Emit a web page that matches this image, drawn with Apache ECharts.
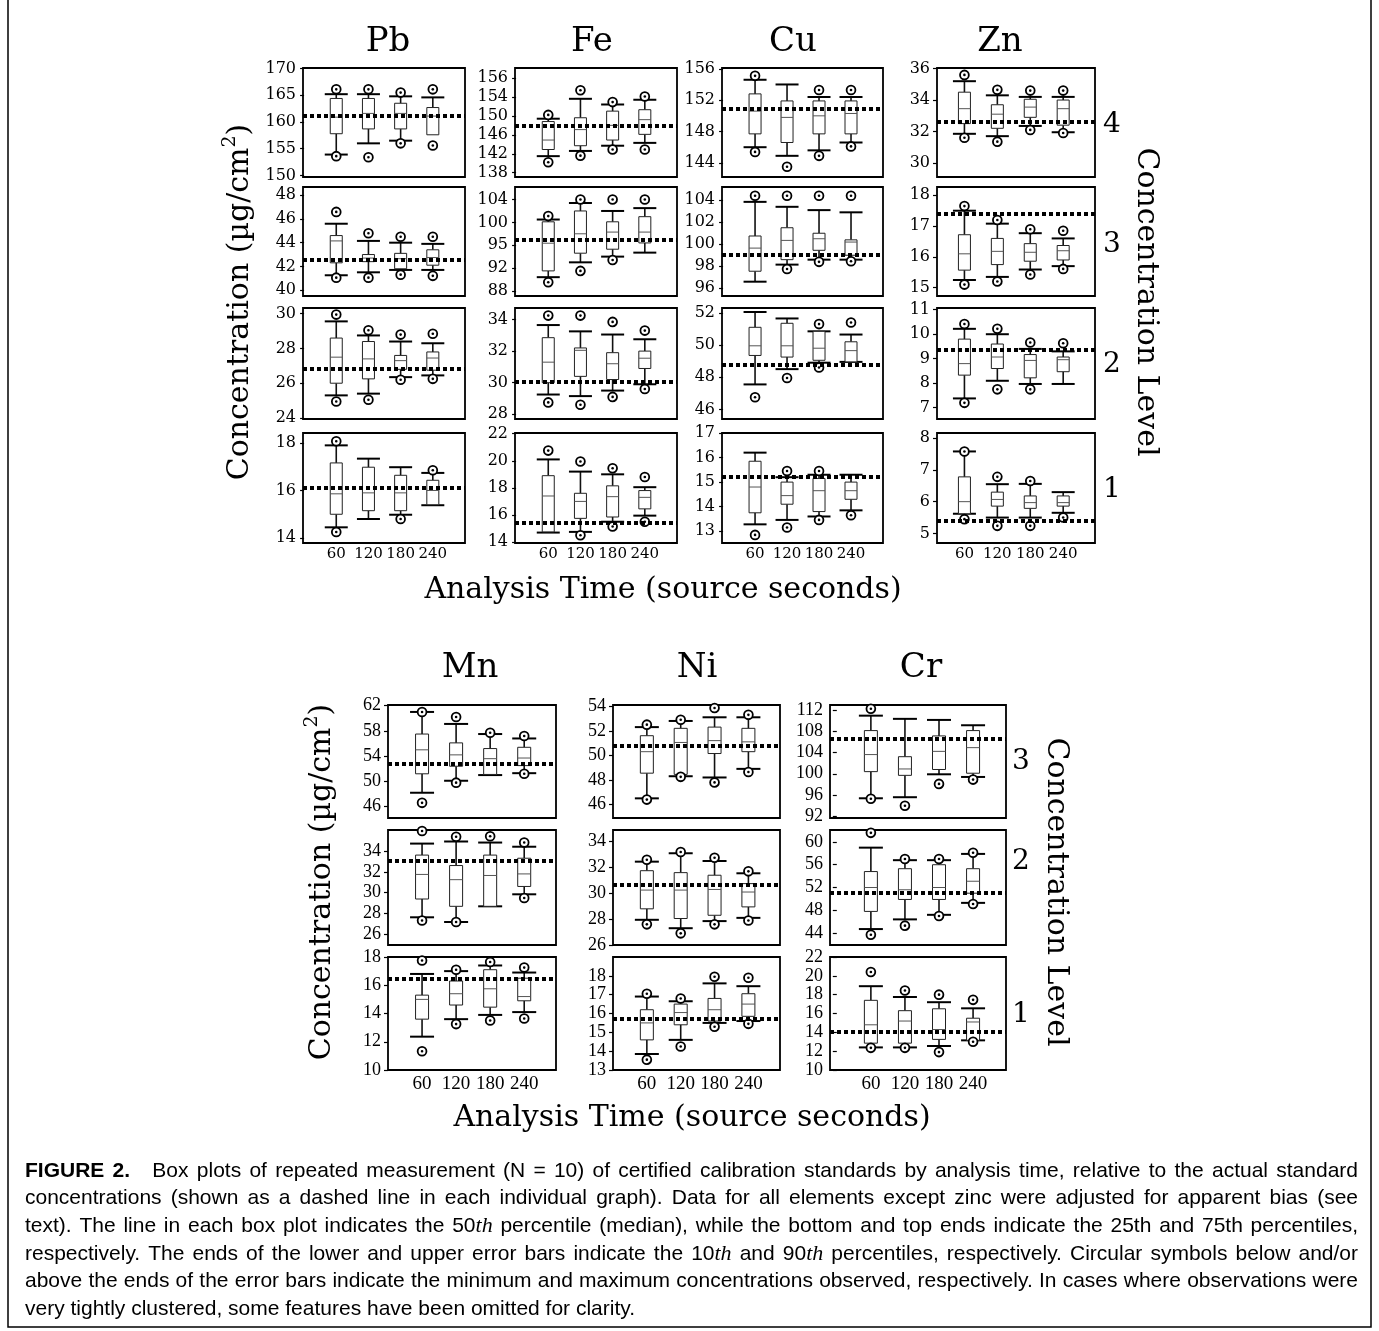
<!DOCTYPE html>
<html>
<head>
<meta charset="utf-8">
<script src="https://cdn.jsdelivr.net/npm/echarts@6/dist/echarts.min.js"></script>
<style>
  html, body { margin: 0; padding: 0; background: #fff; }
  #chart { width: 1379px; height: 1331px; }
</style>
</head>
<body>
<div id="chart"></div>
<script>
// Analysis times (source seconds)
const times = [60, 120, 180, 240];

// Each row: [min, p10, p25, median, p75, p90, max] for one analysis time; null = not shown
const pb4 = [[153.6, 153.9, 157.8, 160.9, 164.4, 165.2, 166.1], [153.4, 156.0, 158.7, 161.6, 164.4, 165.2, 166.1], [156.0, 156.5, 158.7, 161.6, 163.5, 164.8, 165.5], [155.6, null, 157.6, 161.1, 162.7, 164.6, 166.1]];
const pb3 = [[41.05, 41.25, 42.3, 44.15, 44.6, 45.6, 46.6], [41.05, 41.5, 42.4, 42.7, 43.0, 44.15, 44.8], [41.3, 41.7, 41.8, 42.65, 43.1, 44.0, 44.5], [41.2, 41.7, 42.1, 42.75, 43.4, 43.9, 44.5]];
const pb2 = [[24.95, 25.3, 26.0, 27.5, 28.6, 29.56, 29.95], [25.05, 25.4, 26.25, 27.4, 28.4, 28.75, 29.05], [26.2, 26.35, 26.8, 27.3, 27.6, 28.4, 28.8], [26.25, 26.45, 26.75, 27.45, 27.8, 28.3, 28.85]];
const pb1 = [[14.25, 14.45, 15.0, 15.86, 17.16, 17.9, 18.07], [null, 14.8, 15.15, 15.9, 16.98, 17.34, null], [14.8, 14.98, 15.15, 15.9, 16.64, 16.98, null], [null, 15.38, 15.4, 16.0, 16.43, 16.74, 16.85]];

const fe4 = [[140.2, 141.5, 142.9, 144.9, 148.8, 149.4, 150.2], [141.6, 142.6, 143.7, 147.1, 149.6, 153.6, 155.4], [142.9, 143.7, 144.9, 148.0, 151.0, 152.4, 152.9], [142.9, 144.3, 146.1, 149.2, 151.3, 153.4, 154.1]];
const fe3 = [[89.5, 90.4, 91.5, 96.35, 100.1, 100.5, 101.1], [91.5, 93.0, 94.6, 98.0, 102.0, 103.4, 104.0], [93.4, 94.0, 95.3, 98.3, 100.1, 102.0, 104.0], [null, 94.7, 96.4, 98.3, 101.0, 102.5, 104.0]];
const fe2 = [[28.75, 29.25, 30.0, 31.3, 32.85, 33.65, 34.25], [28.6, 29.15, 30.4, 32.05, 32.2, 33.25, 34.25], [29.1, 29.5, 30.2, 31.2, 31.9, 33.05, 33.85], [29.6, 29.9, 30.9, 31.55, 32.0, 32.75, 33.3]];
const fe1 = [[null, 14.7, 14.75, 17.4, 18.9, 20.1, 20.75], [14.5, 14.75, 15.75, 17.0, 17.6, 19.2, 19.95], [15.15, 15.5, 15.85, 17.35, 18.15, 19.0, 19.45], [15.5, 15.95, 16.45, 17.3, 17.8, 18.05, 18.8]];

const cu4 = [[145.4, 146.0, 147.7, 150.6, 152.8, 154.6, 155.1], [143.5, 144.9, 146.6, 149.8, 151.9, 154.0, null], [144.9, 145.6, 147.7, 150.0, 151.9, 152.4, 153.3], [146.1, 146.6, 147.7, 150.3, 151.9, 152.4, 153.3]];
const cu3 = [[null, 96.6, 97.55, 99.65, 100.75, 103.85, 104.4], [97.75, 98.15, 98.6, 100.35, 101.5, 103.4, 104.4], [98.4, 98.6, 99.45, 100.5, 101.0, 103.1, 104.4], [98.45, 98.6, 99.0, 100.2, 100.4, 102.9, 104.4]];
const cu2 = [[46.75, 47.55, 49.35, 49.95, 51.1, 52.05, null], [47.95, 48.5, 49.25, 49.95, 51.35, 51.65, null], [48.6, 48.9, 49.05, 49.8, 50.85, 50.85, 51.3], [null, 48.95, 48.95, 49.65, 50.2, 50.65, 51.4]];
const cu1 = [[12.85, 13.28, 13.75, 14.8, 15.85, 16.2, null], [13.15, 13.46, 14.1, 14.45, 15.0, 15.2, 15.45], [13.46, 13.6, 13.8, 14.65, 15.15, 15.3, 15.45], [13.65, 13.85, 14.3, 14.65, 15.0, 15.3, null]];

const zn4 = [[31.6, 31.85, 32.5, 33.45, 34.5, 35.2, 35.6], [31.35, 31.7, 32.2, 33.1, 33.7, 34.3, 34.65], [32.1, 32.35, 32.9, 33.55, 34.05, 34.2, 34.6], [31.9, 31.95, 32.4, 33.45, 34.0, 34.2, 34.6]];
const zn3 = [[15.1, 15.25, 15.57, 16.1, 16.72, 17.5, 17.65], [15.2, 15.35, 15.75, 16.18, 16.6, 17.08, 17.2], [15.43, 15.59, 15.86, 16.15, 16.43, 16.77, 16.9], [15.61, 15.7, 15.9, 16.2, 16.37, 16.6, 16.85]];
const zn2 = [[7.2, 7.38, 8.33, 8.8, 9.8, 10.22, 10.42], [7.75, 8.1, 8.6, 9.07, 9.6, 10.0, 10.22], [7.75, 7.97, 8.22, 8.93, 9.17, 9.4, 9.66], [null, 7.97, 8.47, 8.96, 9.07, 9.3, 9.63]];
const zn1 = [[5.45, 5.62, 5.62, 6.0, 6.78, 7.58, 7.58], [5.24, 5.5, 5.86, 6.07, 6.3, 6.55, 6.78], [5.24, 5.5, 5.79, 5.97, 6.18, 6.56, 6.65], [5.5, 5.65, 5.86, 5.97, 6.18, 6.3, null]];

const mn3 = [[46.6, 48.2, 51.2, 55.0, 57.5, 61.0, 61.0], [49.8, 50.1, 52.4, 54.2, 56.1, 59.1, 60.2], [null, 51.0, 51.1, 53.6, 55.2, 57.5, 57.7], [51.2, 51.3, 52.5, 53.7, 55.4, 56.8, 57.2]];
const mn2 = [[27.35, 27.65, 29.4, 31.75, 33.6, 34.7, 35.9], [27.2, 27.2, 28.7, 31.25, 32.6, 34.9, 35.35], [null, 28.7, 28.7, 31.65, 33.6, 34.8, 35.4], [29.5, 29.85, 30.6, 31.8, 33.3, 34.4, 34.8]];
const mn1 = [[11.33, 12.36, 13.6, 15.0, 15.3, 16.8, 17.75], [13.25, 13.6, 14.6, 15.4, 16.3, 17.0, 17.1], [13.5, 13.9, 14.45, 15.75, 17.1, 17.4, 17.65], [13.65, 14.1, 14.9, 15.2, 16.5, 16.9, 17.25]];

const ni3 = [[46.4, 46.5, 48.55, 50.3, 51.6, 52.3, 52.5], [48.25, 48.3, 48.45, 51.05, 52.2, 52.8, 52.9], [47.8, 48.2, 50.15, 51.2, 52.3, 53.1, 53.85], [48.65, 48.9, 50.3, 51.1, 52.2, 53.1, 53.3]];
const ni2 = [[27.6, 27.95, 28.8, 30.25, 31.75, 32.45, 32.6], [26.9, 27.3, 28.05, 30.25, 31.6, 33.1, 33.2], [27.6, 27.85, 28.3, 30.3, 31.4, 32.5, 32.75], [27.9, 28.1, 28.95, 30.1, 30.75, 31.55, 31.7]];
const ni1 = [[13.55, 13.85, 14.6, 15.5, 16.2, 16.9, 17.05], [14.25, 14.6, 15.4, 16.05, 16.5, 16.65, 16.8], [15.3, 15.5, 15.6, 16.2, 16.8, 17.6, 17.95], [15.45, 15.6, 15.85, 16.5, 17.05, 17.45, 17.9]];

const cr3 = [[95.3, 95.4, 100.4, 103.6, 108.1, 110.9, 112.2], [94.0, 95.6, 99.7, 100.9, 103.2, 110.3, null], [98.1, 99.9, 100.8, 104.2, 107.1, 110.1, null], [98.9, 99.4, 100.1, 104.9, 108.1, 109.1, null]];
const cr2 = [[43.7, 44.7, 47.8, 52.0, 54.8, 59.0, 61.6], [45.3, 46.4, 49.9, 51.6, 55.3, 56.8, 57.0], [47.0, 47.2, 49.9, 52.0, 56.0, 56.8, 57.0], [49.1, 49.3, 51.0, 53.1, 55.3, 57.9, 58.1]];
const cr1 = [[12.35, 12.4, 12.85, 14.8, 17.4, 18.9, 20.4], [12.35, 12.4, 12.85, 15.2, 16.3, 17.75, 18.45], [11.9, 12.55, 13.25, 14.3, 16.5, 17.2, 18.0], [13.0, 13.15, 13.15, 15.1, 15.5, 16.55, 17.45]];

// Certified standard concentrations (dashed lines), highest level first
const refPb = [161.2, 42.57, 26.82, 16.11];
const refFe = [148.0, 96.9, 30.05, 15.45];
const refCu = [150.9, 99.04, 48.75, 15.2];
const refZn = [32.64, 17.41, 9.35, 5.4];
const refMn = [52.85, 33.03, 16.47];
const refNi = [50.8, 30.65, 15.7];
const refCr = [106.6, 51.0, 14.05];

// y-axis domains
const rangePb = [[149.7, 170.1], [39.5, 48.7], [23.94, 30.33], [13.79, 18.42]];
const rangeFe = [[137.1, 160.1], [87.1, 106.2], [27.7, 34.73], [13.93, 22.05]];
const rangeCu = [[142.2, 156.1], [95.3, 105.2], [45.4, 52.3], [12.52, 17.0]];
const rangeZn = [[29.1, 36.04], [14.73, 18.27], [6.54, 11.07], [4.7, 8.16]];
const rangeMn = [[44.2, 62.1], [25.0, 36.0], [10.0, 18.0]];
const rangeNi = [[44.9, 54.1], [26.0, 34.9], [13.0, 19.0]];
const rangeCr = [[91.7, 112.9], [41.9, 62.1], [10.0, 22.0]];

// y-axis tick values
const ticksPb = [[150, 155, 160, 165, 170], [40, 42, 44, 46, 48], [24, 26, 28, 30], [14, 16, 18]];
const ticksFe = [[138, 142, 146, 150, 154, 158], [88, 92, 96, 100, 104], [28, 30, 32, 34], [14, 16, 18, 20, 22]];
const ticksCu = [[144, 148, 152, 156], [96, 98, 100, 102, 104], [46, 48, 50, 52], [13, 14, 15, 16, 17]];
const ticksZn = [[30, 32, 34, 36], [15, 16, 17, 18], [7, 8, 9, 10, 11], [5, 6, 7, 8]];
const ticksMn = [[46, 50, 54, 58, 62], [26, 28, 30, 32, 34], [10, 12, 14, 16, 18]];
const ticksNi = [[46, 48, 50, 52, 54], [26, 28, 30, 32, 34], [13, 14, 15, 16, 17, 18]];
const ticksCr = [[92, 96, 100, 104, 108, 112], [44, 48, 52, 56, 60], [10, 12, 14, 16, 18, 20, 22]];

// tick label text where it differs from the tick value
const labelsFe = [['138', '142', '146', '150', '154', '156'], ['88', '92', '95', '100', '104'], null, null];

const topLevels = ['4', '3', '2', '1'];
const bottomLevels = ['3', '2', '1'];

// ---------- layout ----------
const topCols = [
  { left: 303, width: 162, xMin: -2, xMax: 300 },
  { left: 515, width: 162, xMin: -2, xMax: 300 },
  { left: 722, width: 161, xMin: -2, xMax: 300 },
  { left: 937, width: 158, xMin: 10, xMax: 298 }
];
const topRows = [
  { top: 68, height: 109 }, { top: 187, height: 109 }, { top: 308, height: 111 }, { top: 433, height: 110 }
];
const botCols = [
  { left: 388, width: 168, xMin: 0, xMax: 296 },
  { left: 613, width: 167, xMin: 0, xMax: 296 },
  { left: 830, width: 176, xMin: -12, xMax: 298 }
];
const botRows = [
  { top: 705, height: 113 }, { top: 830, height: 115 }, { top: 957, height: 113 }
];

const SERIF = "'DejaVu Serif', serif";
const TIMES = "'Liberation Serif', 'Times New Roman', serif";
const SANS = "'Liberation Sans', Arial, sans-serif";

const topElems = [
  { name: 'Pb', stats: [pb4, pb3, pb2, pb1], ref: refPb, range: rangePb, ticks: ticksPb, labels: null },
  { name: 'Fe', stats: [fe4, fe3, fe2, fe1], ref: refFe, range: rangeFe, ticks: ticksFe, labels: labelsFe },
  { name: 'Cu', stats: [cu4, cu3, cu2, cu1], ref: refCu, range: rangeCu, ticks: ticksCu, labels: null },
  { name: 'Zn', stats: [zn4, zn3, zn2, zn1], ref: refZn, range: rangeZn, ticks: ticksZn, labels: null }
];
const botElems = [
  { name: 'Mn', stats: [mn3, mn2, mn1], ref: refMn, range: rangeMn, ticks: ticksMn, labels: null },
  { name: 'Ni', stats: [ni3, ni2, ni1], ref: refNi, range: rangeNi, ticks: ticksNi, labels: null },
  { name: 'Cr', stats: [cr3, cr2, cr1], ref: refCr, range: rangeCr, ticks: ticksCr, labels: null }
];

// ---------- box-and-whisker renderer ----------
function makeBoxRenderer(boxW, capW) {
  return function (params, api) {
    const t = api.value(0);
    const v = [1, 2, 3, 4, 5, 6, 7].map(k => api.value(k));
    const mn = v[0], lo = v[1], q1 = v[2], md = v[3], q3 = v[4], hi = v[5], mx = v[6];
    const y = val => api.coord([t, val])[1];
    const cx = api.coord([t, md])[0];
    const kids = [];
    const seg = (x1, y1, x2, y2, style) => ({ type: 'line', shape: { x1, y1, x2, y2 }, style });
    const whisker = { stroke: '#111', lineWidth: 1.6 };
    const cap = { stroke: '#000', lineWidth: 2 };
    if (isFinite(lo)) {
      kids.push(seg(cx, y(q1), cx, y(lo), whisker));
      kids.push(seg(cx - capW / 2, y(lo), cx + capW / 2, y(lo), cap));
    }
    if (isFinite(hi)) {
      kids.push(seg(cx, y(q3), cx, y(hi), whisker));
      kids.push(seg(cx - capW / 2, y(hi), cx + capW / 2, y(hi), cap));
    }
    kids.push({
      type: 'rect',
      shape: { x: cx - boxW / 2, y: y(q3), width: boxW, height: y(q1) - y(q3) },
      style: { fill: '#fff', stroke: '#222', lineWidth: 1 }
    });
    kids.push(seg(cx - boxW / 2, y(md), cx + boxW / 2, y(md), { stroke: '#555', lineWidth: 1 }));
    [mn, mx].forEach(val => {
      if (isFinite(val)) {
        kids.push({ type: 'circle', shape: { cx, cy: y(val), r: 4.4 }, style: { fill: '#fff', stroke: '#000', lineWidth: 1.8 } });
        kids.push({ type: 'circle', shape: { cx, cy: y(val), r: 1.3 }, style: { fill: '#000' } });
      }
    });
    return { type: 'group', children: kids };
  };
}

const grids = [], xAxes = [], yAxes = [], series = [];

function addPanel(el, rowIdx, col, row, isBottomRow, opts) {
  const i = grids.length;
  grids.push({
    left: col.left, top: row.top, width: col.width, height: row.height,
    show: true, borderColor: '#000', borderWidth: 1.8, backgroundColor: '#fff'
  });
  xAxes.push({
    type: 'value', gridIndex: i, min: col.xMin, max: col.xMax,
    axisLine: { show: false }, axisTick: { show: false }, splitLine: { show: false },
    axisLabel: {
      show: isBottomRow, customValues: times, margin: opts.xMargin,
      fontFamily: opts.xFont, fontSize: opts.xSize, color: '#000'
    }
  });
  const ticks = el.ticks[rowIdx];
  const labels = el.labels && el.labels[rowIdx];
  yAxes.push({
    type: 'value', gridIndex: i, min: el.range[rowIdx][0], max: el.range[rowIdx][1],
    axisLine: { show: false }, splitLine: { show: false },
    axisTick: { show: true, customValues: ticks, length: 4, lineStyle: { color: '#000', width: 1.2 } },
    axisLabel: {
      customValues: ticks, margin: 7, fontFamily: opts.yFont, fontSize: opts.ySize, color: '#000',
      formatter: val => {
        if (!labels) return String(val);
        const k = ticks.findIndex(tv => Math.abs(tv - val) < 1e-6);
        return k >= 0 ? labels[k] : String(val);
      }
    }
  });
  series.push({
    type: 'custom', xAxisIndex: i, yAxisIndex: i,
    renderItem: makeBoxRenderer(opts.boxW, opts.capW),
    encode: { x: 0, y: [1, 2, 3, 4, 5, 6, 7] },
    data: times.map((t, k) => [t].concat(el.stats[rowIdx][k])),
    markLine: {
      silent: true, symbol: ['none', 'none'], label: { show: false }, animation: false,
      emphasis: { disabled: true },
      lineStyle: { color: '#000', width: 4, type: [4, 3] },
      data: [{ yAxis: el.ref[rowIdx] }]
    }
  });
}

const topOpts = { xFont: SERIF, xSize: 15, xMargin: 4, yFont: SERIF, ySize: 16, boxW: 12, capW: 23 };
const botOpts = { xFont: TIMES, xSize: 19, xMargin: 5, yFont: TIMES, ySize: 18, boxW: 13, capW: 24 };

topElems.forEach((el, c) => topRows.forEach((row, r) => addPanel(el, r, topCols[c], row, r === topRows.length - 1, topOpts)));
botElems.forEach((el, c) => botRows.forEach((row, r) => addPanel(el, r, botCols[c], row, r === botRows.length - 1, botOpts)));

// ---------- text helpers ----------
const measureCtx = document.createElement('canvas').getContext('2d');
function textWidth(text, font) { measureCtx.font = font; return measureCtx.measureText(text).width; }

const graphics = [];
function label(text, x, y, font, align) {
  graphics.push({ type: 'text', x, y, silent: true,
    style: { text, font, fill: '#000', align: align || 'center', verticalAlign: 'middle' } });
}
// text made of pieces laid end to end, centred at (x, y), rotated as a whole
function rotatedText(x, y, rotation, pieces) {
  const widths = pieces.map(p => textWidth(p.text, p.font));
  const total = widths.reduce((a, b) => a + b, 0);
  let cur = -total / 2;
  const children = pieces.map((p, k) => {
    const node = { type: 'text', x: cur, y: p.dy || 0, style: { text: p.text, font: p.font, fill: '#000', align: 'left', verticalAlign: 'middle' } };
    cur += widths[k];
    return node;
  });
  graphics.push({ type: 'group', x, y, rotation, silent: true, children });
}

const titleFont = `34px ${SERIF}`;
const axisTitleFont = `30px ${SERIF}`;
const levelFont = `28px ${SERIF}`;

// element names
[['Pb', 388], ['Fe', 592], ['Cu', 793], ['Zn', 1000]].forEach(([n, x]) => label(n, x, 42, titleFont));
[['Mn', 470], ['Ni', 697], ['Cr', 921]].forEach(([n, x]) => label(n, x, 668, titleFont));

// axis titles
label('Analysis Time (source seconds)', 663, 590, axisTitleFont);
label('Analysis Time (source seconds)', 692, 1118, axisTitleFont);
const yTitle = [
  { text: 'Concentration (µg/cm', font: axisTitleFont },
  { text: '2', font: `19px ${SERIF}`, dy: -10 },
  { text: ')', font: axisTitleFont }
];
rotatedText(240, 302, Math.PI / 2, yTitle);
rotatedText(322, 882, Math.PI / 2, yTitle);
rotatedText(1146, 302, -Math.PI / 2, [{ text: 'Concentration Level', font: axisTitleFont }]);
rotatedText(1056, 892, -Math.PI / 2, [{ text: 'Concentration Level', font: axisTitleFont }]);

// concentration level numbers
topLevels.forEach((lv, k) => label(lv, 1112, [125, 245, 365, 490][k], levelFont));
bottomLevels.forEach((lv, k) => label(lv, 1021, [762, 862, 1015][k], levelFont));

// ---------- caption (justified) ----------
const captionLines = [
  '*FIGURE *2. Box plots of repeated measurement (N = 10) of certified calibration standards by analysis time, relative to the actual standard',
  'concentrations (shown as a dashed line in each individual graph). Data for all elements except zinc were adjusted for apparent bias (see',
  'text). The line in each box plot indicates the 50_th percentile (median), while the bottom and top ends indicate the 25th and 75th percentiles,',
  'respectively. The ends of the lower and upper error bars indicate the 10_th and 90_th percentiles, respectively. Circular symbols below and/or',
  'above the ends of the error bars indicate the minimum and maximum concentrations observed, respectively. In cases where observations were',
  'very tightly clustered, some features have been omitted for clarity.'
];
const capSize = 21;
const capFonts = {
  n: `${capSize}px ${SANS}`,
  b: `bold ${capSize}px ${SANS}`,
  i: `italic ${capSize + 1}px ${TIMES}`
};
const capLeft = 25, capRight = 1358, capTop = 1171, capStep = 27.6;
captionLines.forEach((line, li) => {
  const words = line.split(' ').map(w => {
    if (w.startsWith('*')) return [{ text: w.slice(1), kind: 'b' }];
    const parts = w.split('_');
    return parts.length > 1 ? [{ text: parts[0], kind: 'n' }, { text: parts[1], kind: 'i' }] : [{ text: w, kind: 'n' }];
  });
  words.forEach(ws => ws.forEach(p => { p.w = textWidth(p.text, capFonts[p.kind]); }));
  const wordW = words.map(ws => ws.reduce((a, p) => a + p.w, 0));
  const extra = li === 0 ? 14 : 0;
  const total = wordW.reduce((a, b) => a + b, 0) + extra;
  const last = li === captionLines.length - 1;
  const spaceW = textWidth(' ', capFonts.n);
  const gap = last ? spaceW : Math.max(2, (capRight - capLeft - total) / (words.length - 1));
  let x = capLeft;
  const y = capTop + li * capStep;
  words.forEach((ws, wi) => {
    ws.forEach(p => {
      graphics.push({ type: 'text', x, y, silent: true,
        style: { text: p.text, font: capFonts[p.kind], fill: '#000', align: 'left', verticalAlign: 'middle' } });
      x += p.w;
    });
    x += gap + (li === 0 && wi === 1 ? extra : 0);
  });
});

// page frame
graphics.push({ type: 'polyline', silent: true,
  shape: { points: [[8, -2], [8, 1327], [1371, 1327], [1371, -2]] },
  style: { stroke: '#000', lineWidth: 1.5, fill: null } });

const chart = echarts.init(document.getElementById('chart'), null, { renderer: 'canvas' });
chart.setOption({
  animation: false,
  backgroundColor: '#fff',
  grid: grids,
  xAxis: xAxes,
  yAxis: yAxes,
  series: series,
  graphic: { elements: graphics }
});
</script>
</body>
</html>
